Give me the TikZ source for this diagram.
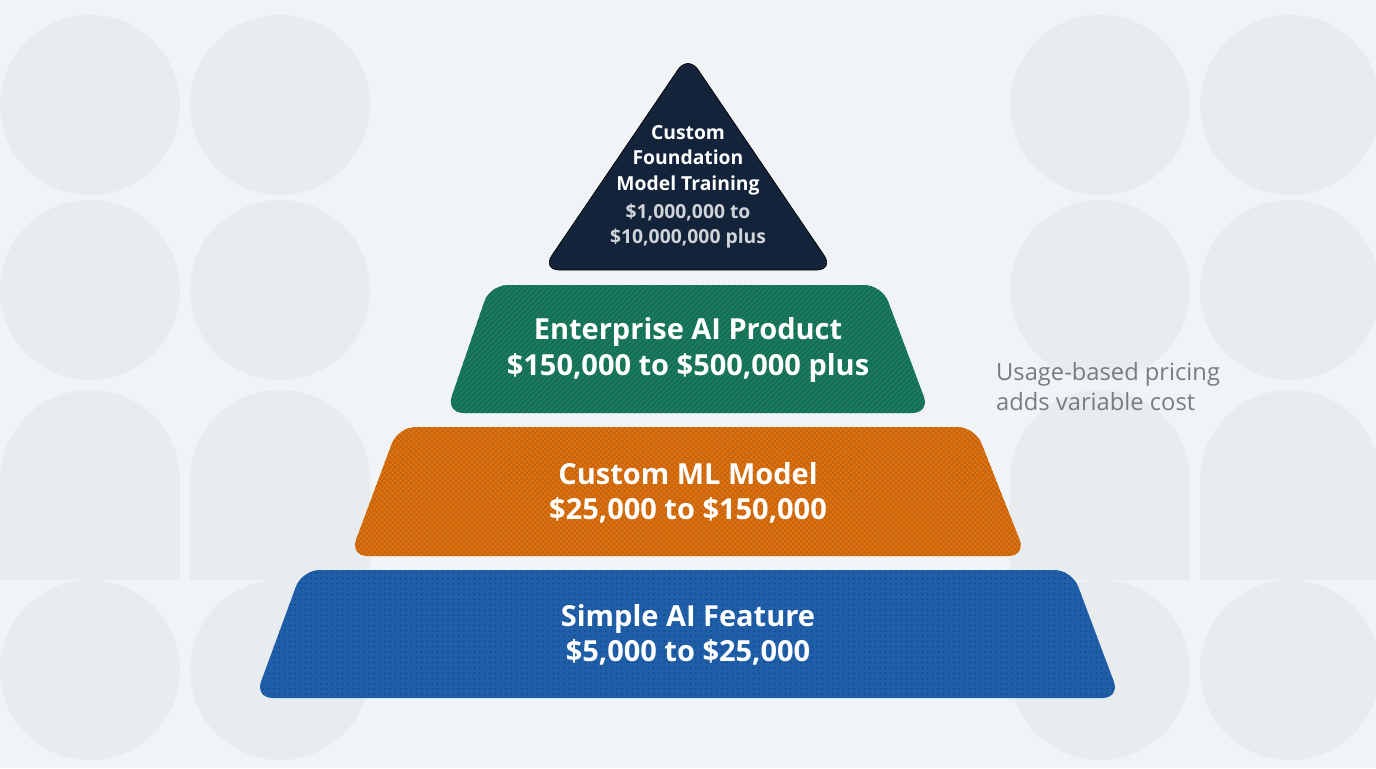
\documentclass[tikz,border=0pt]{standalone}
\usepackage{fontspec}
\setmainfont{Open Sans}
\usetikzlibrary{patterns,positioning}
\definecolor{bgpale}{RGB}{241,244,247}
\definecolor{bgshape}{RGB}{233,236,239}
\definecolor{navy}{RGB}{19,35,58}
\definecolor{teal}{RGB}{26,122,94}
\definecolor{amber}{RGB}{224,115,16}
\definecolor{royal}{RGB}{31,94,168}
\definecolor{notegray}{RGB}{120,124,130}
\tikzset{
  tier/.style={rounded corners=10pt},
  tiertext/.style={text=white, font=\bfseries\fontsize{16.5}{20}\selectfont, align=center},
  toptext/.style={text=white, font=\bfseries\fontsize{11}{14.5}\selectfont, align=center},
  deco/.style={fill=bgshape}
}
\begin{document}
\begin{tikzpicture}[x=0.02cm,y=-0.02cm]
  \fill[bgpale] (0,0) rectangle (1376,768);
  \useasboundingbox (0,0) rectangle (1376,768);
  % background pattern
  \foreach \cx in {90,280,1100,1290} {
    \fill[deco] (\cx,105) circle (90);
    \fill[deco] (\cx,290) circle (90);
    \fill[deco] (\cx-90,480) rectangle (\cx+90,580);
    \fill[deco] (\cx,480) circle (90);
    \fill[deco] (\cx,670) circle (90);
  }
  % pyramid
  \draw[tier, fill=navy] (688,55) -- (834,270) -- (542,270) -- cycle;
  \fill[tier, preaction={fill=teal}, pattern=north east lines, pattern color=teal!80!black]
    (490,285) -- (882,285) -- (930,413) -- (446,413) -- cycle;
  \fill[tier, preaction={fill=amber}, pattern=crosshatch, pattern color=amber!85!black]
    (398,427) -- (975,427) -- (1026,556) -- (350,556) -- cycle;
  \fill[tier, preaction={fill=royal}, pattern=dots, pattern color=royal!75!black]
    (302,570) -- (1072,570) -- (1120,698) -- (255,698) -- cycle;
  % labels
  \node[toptext] (toplabel) at (688,160) {Custom\\Foundation\\Model Training};
  \node[toptext, text=white!80!navy, below=-2pt of toplabel] (topcost) {\$1,000,000 to\\\$10,000,000 plus};
  \node[tiertext] (enterprise) at (688,350) {Enterprise AI Product\\\$150,000 to \$500,000 plus};
  \node[tiertext] (custommodel) at (688,493) {Custom ML Model\\\$25,000 to \$150,000};
  \node[tiertext] (simple) at (688,635) {Simple AI Feature\\\$5,000 to \$25,000};
  \node[text=notegray, font=\fontsize{13.5}{17}\selectfont, align=left, anchor=west] (usage) at (990,387)
    {Usage-based pricing\\adds variable cost};
\end{tikzpicture}
\end{document}
